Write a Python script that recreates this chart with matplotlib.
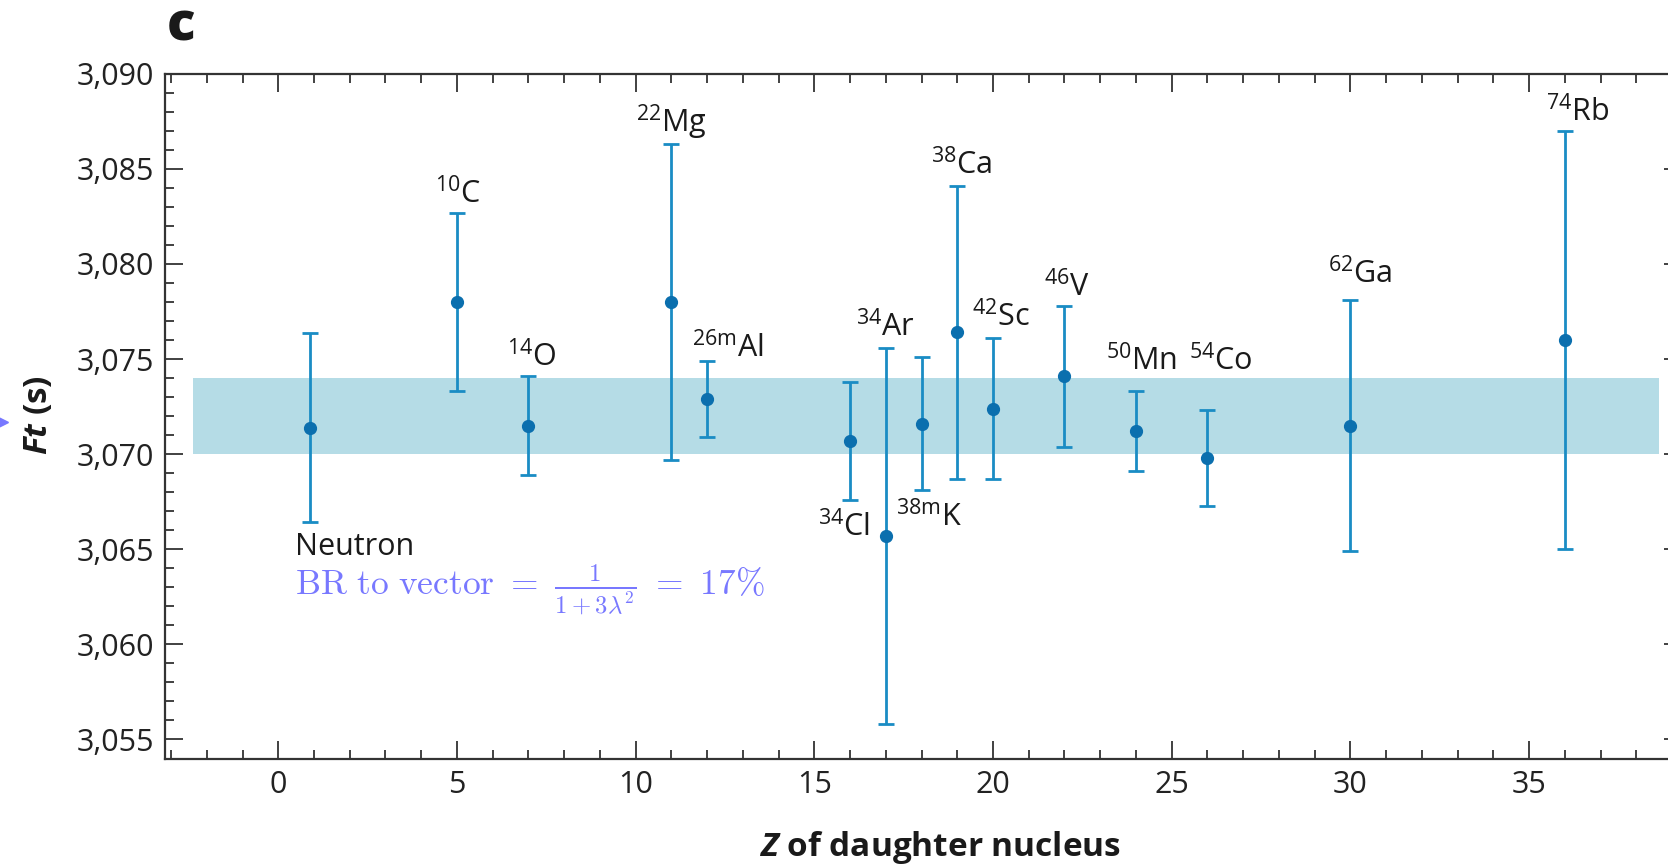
import matplotlib
matplotlib.use("Agg")
import matplotlib.pyplot as plt
from matplotlib.ticker import MultipleLocator, FuncFormatter
from matplotlib.lines import Line2D

plt.rcParams['font.family'] = ['Open Sans', 'DejaVu Sans']
plt.rcParams['mathtext.fontset'] = 'custom'
plt.rcParams['mathtext.rm'] = 'Open Sans'
plt.rcParams['mathtext.it'] = 'Open Sans:italic'
plt.rcParams['mathtext.bf'] = 'Open Sans:bold'
plt.rcParams['mathtext.bfit'] = 'Open Sans:italic:bold'

# data: Z of daughter nucleus, Ft value and its uncertainty
names = ["Neutron", "10C", "14O", "22Mg", "26mAl", "34Cl", "34Ar", "38mK", "38Ca",
         "42Sc", "46V", "50Mn", "54Co", "62Ga", "74Rb"]
z = [0.9, 5, 7, 11, 12, 16, 17, 18, 19, 20, 22, 24, 26, 30, 36]
ft = [3071.4, 3078.0, 3071.5, 3078.0, 3072.9, 3070.7, 3065.7, 3071.6, 3076.4,
      3072.4, 3074.1, 3071.2, 3069.8, 3071.5, 3076.0]
ft_err = [4.95, 4.7, 2.6, 8.3, 2.0, 3.1, 9.9, 3.5, 7.7, 3.7, 3.7, 2.1, 2.5, 6.6, 11.0]

band_lo, band_hi = 3070, 3074

# isotope labels (text, x, baseline y)
labels = [r"$^{\mathrm{10}}$C", r"$^{\mathrm{14}}$O", r"$^{\mathrm{22}}$Mg", r"$^{\mathrm{26m}}$Al",
          r"$^{\mathrm{34}}$Ar", r"$^{\mathrm{38}}$Ca", r"$^{\mathrm{42}}$Sc", r"$^{\mathrm{46}}$V",
          r"$^{\mathrm{50}}$Mn", r"$^{\mathrm{54}}$Co", r"$^{\mathrm{62}}$Ga", r"$^{\mathrm{74}}$Rb",
          r"$^{\mathrm{34}}$Cl", r"$^{\mathrm{38m}}$K"]
label_x = [5.04, 7.1, 11.0, 12.57, 17.0, 19.13, 20.22, 22.07, 24.17, 26.36, 30.26, 36.36,
           15.82, 18.2]
label_y = [3083.2, 3074.6, 3086.9, 3075.1, 3076.2, 3084.7, 3076.7, 3078.3, 3074.4, 3074.4,
           3079.0, 3087.5, 3065.7, 3066.2]

W, H = 1668, 866
fig = plt.figure(figsize=(W / 100, H / 100), dpi=100)
ax = fig.add_axes([165 / W, 1 - 758.5 / H, (1682 - 165) / W, (758.5 - 73.8) / H])

ax.fill_between([-2.4, 38.65], band_lo, band_hi, color='#b5dce6', lw=0, zorder=1)
ax.errorbar(z, ft, yerr=ft_err, fmt='o', color='#0b6fae', ecolor='#1a8cc4',
            elinewidth=2, capsize=6, capthick=2, markersize=8.5, zorder=3)

for t, x, y in zip(labels, label_x, label_y):
    ax.text(x, y, t, ha='center', va='baseline', fontsize=22, color='#1a1a1a')

ax.text(0.46, 3064.7, "Neutron", ha='left', va='baseline', fontsize=22, color='#1a1a1a')
ax.text(0.46, 3062.6, r"$\mathrm{BR\ to\ vector}\ =\ \frac{1}{1+3\lambda^2}\ =\ 17\%$",
        ha='left', va='baseline', fontsize=25.5, color='#7878ff', math_fontfamily='cm')

ax.set_xlim(-3.17, 39.28)
ax.set_ylim(3054, 3090)
ax.xaxis.set_major_locator(MultipleLocator(5))
ax.xaxis.set_minor_locator(MultipleLocator(1))
ax.yaxis.set_major_locator(MultipleLocator(5))
ax.yaxis.set_minor_locator(MultipleLocator(1))
ax.yaxis.set_major_formatter(FuncFormatter(lambda v, _: f"{v:,.0f}"))

ax.tick_params(which='both', direction='in', top=True, right=True, color='#333333',
               width=1.3, labelsize=22, labelcolor='#222222', pad=8)
ax.tick_params(which='major', length=13)
ax.tick_params(which='minor', length=6.5)
for s in ax.spines.values():
    s.set_linewidth(1.6)
    s.set_color('#333333')

fig.text(940 / W, 1 - 856 / H, r"$\mathbfit{Z}$ of daughter nucleus", ha='center',
         va='baseline', fontsize=24, fontweight='bold', color='#1a1a1a')
fig.text(39 / W, 1 - 415 / H, r"$\mathbfit{Ft}$ (s)", ha='center', va='center',
         rotation=90, fontsize=24, fontweight='bold', color='#1a1a1a')
fig.text(181 / W, 1 - 27 / H, "c", ha='center', va='center', fontsize=38,
         fontweight='heavy', color='#1a1a1a')

fig.add_artist(Line2D([2 / W], [1 - 422 / H], marker='>', markersize=8, color='#7878ff',
                      lw=0, transform=fig.transFigure))

fig.savefig("out.png", dpi=100)
